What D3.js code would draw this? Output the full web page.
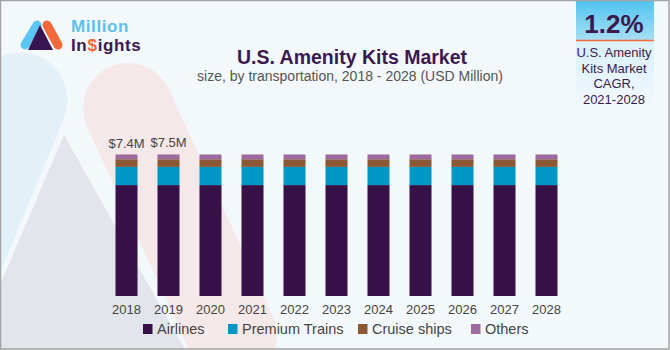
<!DOCTYPE html>
<meta charset="utf-8">
<style>
  body { margin: 0; background: #fff; }
  svg text { font-family: "Liberation Sans", Arial, sans-serif; }
</style>
<svg id="chart" width="670" height="350"></svg>
<script src="https://d3js.org/d3.v7.min.js"></script>
<script>

// data (USD million)
years = ["2018","2019","2020","2021","2022","2023","2024","2025","2026","2027","2028"]
airlines      = [5.80, 5.80, 5.80, 5.80, 5.80, 5.80, 5.80, 5.80, 5.80, 5.80, 5.80]
premiumTrains = [0.95, 0.95, 0.95, 0.95, 0.95, 0.95, 0.95, 0.95, 0.95, 0.95, 0.95]
cruiseShips   = [0.40, 0.40, 0.40, 0.40, 0.40, 0.40, 0.40, 0.40, 0.40, 0.40, 0.40]
others        = [0.25, 0.25, 0.25, 0.25, 0.25, 0.25, 0.25, 0.25, 0.25, 0.25, 0.25]
labelYears  = ["2018", "2019"]
labelTotals = [7.4, 7.5]
seriesNames = ["Airlines", "Premium Trains", "Cruise ships", "Others"]
colors = ["#371047", "#0097c4", "#8b5834", "#9c6a9e"]

width = 670
height = 350

var svg = d3.select("#chart")

// background
var defs = svg.append("defs")
var g1 = defs.append("linearGradient").attr("id", "cagrTop").attr("x1", 0).attr("y1", 0).attr("x2", 0).attr("y2", 1)
g1.append("stop").attr("offset", "0%").attr("stop-color", "#4ec3ef")
g1.append("stop").attr("offset", "100%").attr("stop-color", "#aadff4")
var g2 = defs.append("linearGradient").attr("id", "cagrBot").attr("x1", 0).attr("y1", 0).attr("x2", 0).attr("y2", 1)
g2.append("stop").attr("offset", "0%").attr("stop-color", "#d9f0fb")
g2.append("stop").attr("offset", "100%").attr("stop-color", "#f1f8fc")

svg.append("rect").attr("width", width).attr("height", height).attr("fill", "#f3f8fb")

// faded logo watermark
var wm = svg.append("g")
wm.append("line")
  .attr("x1", 20).attr("y1", 100).attr("x2", -75).attr("y2", 330)
  .attr("stroke", "#e2f0f8").attr("stroke-width", 95).attr("stroke-linecap", "round")
wm.append("line")
  .attr("x1", 128).attr("y1", 108).attr("x2", 232).attr("y2", 335)
  .attr("stroke", "#f5e8e8").attr("stroke-width", 90).attr("stroke-linecap", "round")
wm.append("path")
  .attr("d", "M64,135 L-30,355 L188,355 Z")
  .attr("fill", "#e3e5ec")

// logo
var logo = svg.append("g")
logo.append("line").attr("x1", 25).attr("y1", 45).attr("x2", 37).attr("y2", 25)
  .attr("stroke", "#5cc6f2").attr("stroke-width", 9).attr("stroke-linecap", "round")
logo.append("line").attr("x1", 47).attr("y1", 25).attr("x2", 58).attr("y2", 45)
  .attr("stroke", "#f26a3b").attr("stroke-width", 9).attr("stroke-linecap", "round")
logo.append("path").attr("d", "M40,25 L28,50 L53,50 Z").attr("fill", "#3a1450")
logo.append("text").attr("x", 71).attr("y", 31.5)
  .style("font-weight", "bold").style("font-size", "17px").style("letter-spacing", "0.6px")
  .attr("fill", "#5cc0ec").text("Million")

// "In$ights" as three pieces placed side by side
var logoParts = [["In", "#3a1a4e"], ["$", "#f26a3b"], ["ights", "#3a1a4e"]]
var lx = 71
logoParts.forEach(p => {
  var t = logo.append("text").attr("x", lx).attr("y", 51)
    .style("font-weight", "bold").style("font-size", "17px").style("letter-spacing", "0.6px")
    .attr("fill", p[1]).text(p[0])
  lx += t.node().getComputedTextLength() + 0.2
})

// title
svg.append("text").attr("x", 352).attr("y", 64).attr("text-anchor", "middle")
  .style("font-size", "19.5px").style("font-weight", "bold").attr("fill", "#3a1a4e")
  .text("U.S. Amenity Kits Market")
svg.append("text").attr("x", 350).attr("y", 81).attr("text-anchor", "middle")
  .style("font-size", "14px").attr("fill", "#555")
  .text("size, by transportation, 2018 - 2028 (USD Million)")

// CAGR box
svg.append("rect").attr("x", 576).attr("y", 0).attr("width", 78).attr("height", 41).attr("fill", "url(#cagrTop)")
svg.append("rect").attr("x", 576).attr("y", 41).attr("width", 78).attr("height", 64).attr("fill", "url(#cagrBot)")
svg.append("line").attr("x1", 576).attr("x2", 654).attr("y1", 40.5).attr("y2", 40.5)
  .attr("stroke", "#f26a3b").attr("stroke-width", 1.5)
svg.append("text").attr("x", 614).attr("y", 33).attr("text-anchor", "middle")
  .style("font-size", "26px").style("font-weight", "bold").attr("fill", "#3a1a4e").text("1.2%")
var cagrLines = ["U.S. Amenity", "Kits Market", "CAGR,", "2021-2028"]
svg.append("g").selectAll("text").data(cagrLines).join("text")
  .attr("x", 614).attr("y", (d, i) => 57 + i * 15.5).attr("text-anchor", "middle")
  .style("font-size", "13px").attr("fill", "#3a1a4e").text(d => d)

// chart
var x = d3.scaleBand().domain(years).range([105.5, 567.5]).paddingInner(0.476).paddingOuter(0.238)
var y = d3.scaleLinear().domain([0, 8]).range([296, 143])

var table = years.map((yr, i) => ({
  year: yr,
  "Airlines": airlines[i],
  "Premium Trains": premiumTrains[i],
  "Cruise ships": cruiseShips[i],
  "Others": others[i]
}))
var stacked = d3.stack().keys(seriesNames)(table)

svg.append("g").selectAll("g").data(stacked).join("g")
    .attr("fill", (d, i) => colors[i])
  .selectAll("rect").data(d => d).join("rect")
    .attr("x", d => x(d.data.year))
    .attr("y", d => y(d[1]))
    .attr("width", x.bandwidth())
    .attr("height", d => y(d[0]) - y(d[1]))

// year axis
var xAxis = svg.append("g").attr("transform", "translate(0,296)")
  .call(d3.axisBottom(x).tickSize(0).tickPadding(9))
xAxis.select(".domain").remove()
xAxis.selectAll("text").style("font-size", "13px").attr("fill", "#444")
  .style("font-family", "'Liberation Sans', Arial, sans-serif")

// value labels
svg.append("g").selectAll("text").data(labelYears).join("text")
  .attr("x", d => x(d) + x.bandwidth() / 2)
  .attr("y", (d, i) => y(labelTotals[i]) - 6)
  .attr("text-anchor", "middle")
  .style("font-size", "13px").attr("fill", "#444")
  .text((d, i) => "$" + labelTotals[i].toFixed(1) + "M")

// legend
var legendX = [143, 228, 358, 471]
var legend = svg.append("g").selectAll("g").data(seriesNames).join("g")
  .attr("transform", (d, i) => "translate(" + legendX[i] + ",324)")
legend.append("rect").attr("width", 9.5).attr("height", 10).attr("fill", (d, i) => colors[i])
legend.append("text").attr("x", 14).attr("y", 10).style("font-size", "14.5px").attr("fill", "#444").text(d => d)

// frame
svg.append("rect").attr("x", 0.5).attr("y", 0.5).attr("width", width - 1.5).attr("height", height - 1.5)
  .attr("fill", "none").attr("stroke", "#a3a3a3").attr("stroke-width", 1.5)

</script>
